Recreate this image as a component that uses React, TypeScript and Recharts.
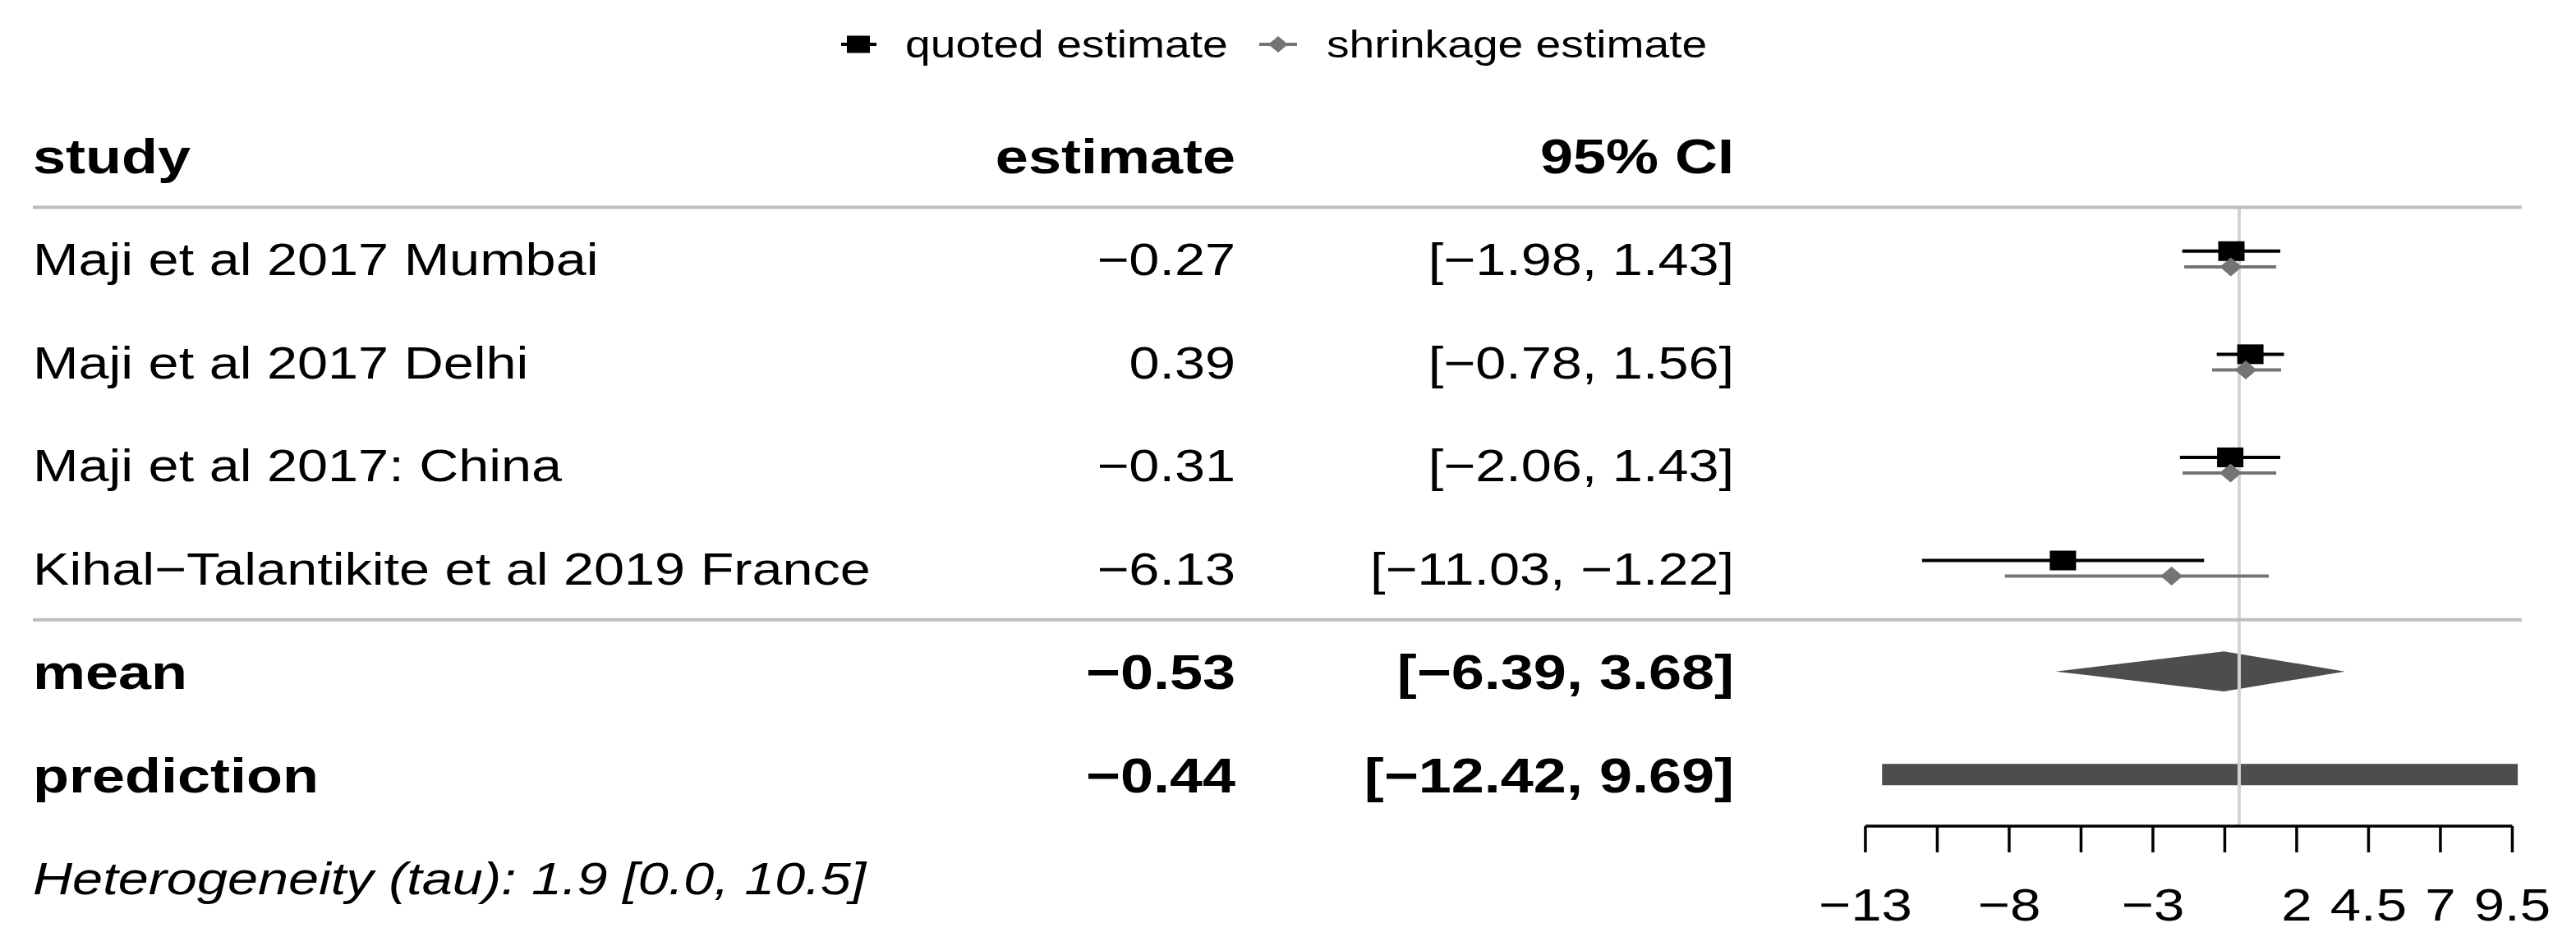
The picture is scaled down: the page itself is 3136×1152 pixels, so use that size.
import { ComposedChart, ErrorBar, Legend, ReferenceArea, ReferenceLine, Scatter, XAxis, YAxis } from "recharts"

// table content
const HEADERS = ["study", "estimate", "95% CI"]
const STUDIES = [
  "Maji et al 2017 Mumbai",
  "Maji et al 2017 Delhi",
  "Maji et al 2017: China",
  "Kihal−Talantikite et al 2019 France",
]
const QUOTED_EST = [-0.27, 0.39, -0.31, -6.13]
const QUOTED_LO = [-1.98, -0.78, -2.06, -11.03]
const QUOTED_HI = [1.43, 1.56, 1.43, -1.22]
// shrinkage values
const SHRINK_EST = [-0.29, 0.23, -0.3, -2.35]
const SHRINK_LO = [-1.91, -0.94, -1.97, -8.15]
const SHRINK_HI = [1.29, 1.46, 1.29, 1.03]
const SUMMARY_LABELS = ["mean", "prediction"]
const SUMMARY_EST = [-0.53, -0.44]
const SUMMARY_LO = [-6.39, -12.42]
const SUMMARY_HI = [3.68, 9.69]
const TAU = [1.9, 0.0, 10.5]
const LEGEND_LABELS = ["quoted estimate", "shrinkage estimate"]
const AXIS_TICKS = [-13, -10.5, -8, -5.5, -3, -0.5, 2, 4.5, 7, 9.5]
const AXIS_LABELS = [-13, -8, -3, 2, 4.5, 7, 9.5]

const W = 3136
const H = 1152
const FONT = "'Liberation Sans', Arial, Helvetica, sans-serif"
const SX = 1.2 // the picture is stretched sideways
const F_REG = 55.5
const F_BOLD = 60
const F_TICK = 56
const F_LEG = 46
const EST_X = 1504
const CI_X = 2111
const NAME_X = 40
const DODGE = 0.076
const GREY = "#747474"
const DARK = "#4d4d4d"

// x domain picked so the plot panel spans the whole table width
const X_DOMAIN = [-76.74, 9.83]
const Y_DOMAIN = [-0.5, 6.5]
const ROW_TICKS = [0, 1, 2, 3, 4, 5, 6, 7]

const minus = (s: string) => s.replace("-", "−")
const fmt2 = (v: number) => minus(v.toFixed(2))
const fmtCI = (lo: number, hi: number) => `[${fmt2(lo)}, ${fmt2(hi)}]`

const quotedData = STUDIES.map((_, i) => ({
  x: QUOTED_EST[i],
  y: i + 1 - DODGE,
  err: [QUOTED_EST[i] - QUOTED_LO[i], QUOTED_HI[i] - QUOTED_EST[i]],
}))
const shrinkData = STUDIES.map((_, i) => ({
  x: SHRINK_EST[i],
  y: i + 1 + DODGE,
  err: [SHRINK_EST[i] - SHRINK_LO[i], SHRINK_HI[i] - SHRINK_EST[i]],
}))

function SText({ x, y, anchor = "start", size, weight = "normal", italic = false, children }: any) {
  return (
    <text
      transform={`translate(${x} ${y}) scale(${SX} 1)`}
      textAnchor={anchor}
      fontSize={size}
      fontWeight={weight}
      fontStyle={italic ? "italic" : "normal"}
      fontFamily={FONT}
      fill="#000"
    >
      {children}
    </text>
  )
}

function RowTick(props: any) {
  const { y, payload } = props
  const r = payload.value
  if (r === 0) {
    const b = y + 0.358 * F_BOLD
    return (
      <g>
        <SText x={NAME_X} y={b} size={F_BOLD} weight="bold">{HEADERS[0]}</SText>
        <SText x={EST_X} y={b} anchor="end" size={F_BOLD} weight="bold">{HEADERS[1]}</SText>
        <SText x={CI_X} y={b} anchor="end" size={F_BOLD} weight="bold">{HEADERS[2]}</SText>
      </g>
    )
  }
  if (r >= 1 && r <= STUDIES.length) {
    const i = r - 1
    const b = y + 0.358 * F_REG
    return (
      <g>
        <SText x={NAME_X} y={b} size={F_REG}>{STUDIES[i]}</SText>
        <SText x={EST_X} y={b} anchor="end" size={F_REG}>{fmt2(QUOTED_EST[i])}</SText>
        <SText x={CI_X} y={b} anchor="end" size={F_REG}>{fmtCI(QUOTED_LO[i], QUOTED_HI[i])}</SText>
      </g>
    )
  }
  if (r === 5 || r === 6) {
    const i = r - 5
    const b = y + 0.358 * F_BOLD
    return (
      <g>
        <SText x={NAME_X} y={b} size={F_BOLD} weight="bold">{SUMMARY_LABELS[i]}</SText>
        <SText x={EST_X} y={b} anchor="end" size={F_BOLD} weight="bold">{fmt2(SUMMARY_EST[i])}</SText>
        <SText x={CI_X} y={b} anchor="end" size={F_BOLD} weight="bold">{fmtCI(SUMMARY_LO[i], SUMMARY_HI[i])}</SText>
      </g>
    )
  }
  const b = y + 0.358 * F_REG
  return (
    <SText x={NAME_X} y={b} size={F_REG} italic>
      {`Heterogeneity (tau): ${TAU[0].toFixed(1)} [${TAU[1].toFixed(1)}, ${TAU[2].toFixed(1)}]`}
    </SText>
  )
}

function AxisTick(props: any) {
  const { x, y, payload } = props
  const v = payload.value
  if (!AXIS_LABELS.includes(v)) return <g />
  return (
    <SText x={x} y={y + 83} anchor="middle" size={F_TICK}>
      {minus(String(v))}
    </SText>
  )
}

const square = (p: any) => <rect x={p.cx - 16} y={p.cy - 12} width={32} height={24} fill="#000" />
const diamond = (p: any) => (
  <polygon
    points={`${p.cx - 13.5},${p.cy} ${p.cx},${p.cy - 11.5} ${p.cx + 13.5},${p.cy} ${p.cx},${p.cy + 11.5}`}
    fill={GREY}
  />
)

function MeanDiamond(props: any) {
  const { x, y, width, height } = props
  const f = (SUMMARY_EST[0] - SUMMARY_LO[0]) / (SUMMARY_HI[0] - SUMMARY_LO[0])
  const cx = x + width * f
  return (
    <polygon
      points={`${x},${y + height / 2} ${cx},${y} ${x + width},${y + height / 2} ${cx},${y + height}`}
      fill={DARK}
    />
  )
}

function LegendContent() {
  const cy = 54
  const b = cy + 0.358 * F_LEG
  return (
    <svg width={W} height={100}>
      <line x1={1024} x2={1067} y1={cy} y2={cy} stroke="#000" strokeWidth={4} />
      <rect x={1031} y={cy - 10.5} width={28} height={21} fill="#000" />
      <SText x={1102} y={b} size={F_LEG}>{LEGEND_LABELS[0]}</SText>
      <line x1={1533} x2={1579} y1={cy} y2={cy} stroke={GREY} strokeWidth={4} />
      <polygon points={`${1544},${cy} ${1556},${cy - 10} ${1568},${cy} ${1556},${cy + 10}`} fill={GREY} />
      <SText x={1615} y={b} size={F_LEG}>{LEGEND_LABELS[1]}</SText>
    </svg>
  )
}

export default function App() {
  return (
    <div style={{ width: W, height: H, background: "#fff" }}>
      <style>{"body{margin:0}"}</style>
      <ComposedChart width={W} height={H} margin={{ top: 127, right: 66, bottom: 16, left: 39 }}>
        <XAxis
          type="number"
          dataKey="x"
          domain={X_DOMAIN}
          allowDataOverflow
          ticks={AXIS_TICKS}
          interval={0}
          axisLine={false}
          tickSize={32}
          tickMargin={0}
          tickLine={{ stroke: "#000", strokeWidth: 3.5 }}
          tick={<AxisTick />}
          height={130}
        />
        <YAxis
          type="number"
          dataKey="y"
          domain={Y_DOMAIN}
          allowDataOverflow
          reversed
          ticks={ROW_TICKS}
          interval={0}
          axisLine={false}
          tickLine={false}
          tick={<RowTick />}
          width={1}
        />
        <ReferenceLine
          segment={[{ x: 0, y: 0.5 }, { x: 0, y: 6.5 }]}
          stroke="#d3d3d3"
          strokeWidth={4}
          ifOverflow="visible"
        />
        <ReferenceLine y={0.5} stroke="#bebebe" strokeWidth={4} />
        <ReferenceLine y={4.5} stroke="#bebebe" strokeWidth={4} />
        <ReferenceLine
          segment={[{ x: -13, y: 6.5 }, { x: 9.5, y: 6.5 }]}
          stroke="#000"
          strokeWidth={3.5}
          ifOverflow="visible"
        />
        <ReferenceArea
          x1={SUMMARY_LO[0]}
          x2={SUMMARY_HI[0]}
          y1={5 - 0.194}
          y2={5 + 0.194}
          shape={<MeanDiamond />}
          ifOverflow="visible"
        />
        <ReferenceArea
          x1={SUMMARY_LO[1]}
          x2={SUMMARY_HI[1]}
          y1={6 - 0.104}
          y2={6 + 0.104}
          fill={DARK}
          fillOpacity={1}
          stroke="none"
          ifOverflow="visible"
        />
        <Scatter name={LEGEND_LABELS[0]} data={quotedData} fill="#000" shape={square} isAnimationActive={false}>
          <ErrorBar dataKey="err" direction="x" width={0} stroke="#000" strokeWidth={4} />
        </Scatter>
        <Scatter name={LEGEND_LABELS[1]} data={shrinkData} fill={GREY} shape={diamond} isAnimationActive={false}>
          <ErrorBar dataKey="err" direction="x" width={0} stroke={GREY} strokeWidth={4} />
        </Scatter>
        <Legend
          verticalAlign="middle"
          align="center"
          layout="horizontal"
          wrapperStyle={{ top: 0, left: 0, width: W, height: 100 }}
          content={<LegendContent />}
        />
      </ComposedChart>
    </div>
  )
}
